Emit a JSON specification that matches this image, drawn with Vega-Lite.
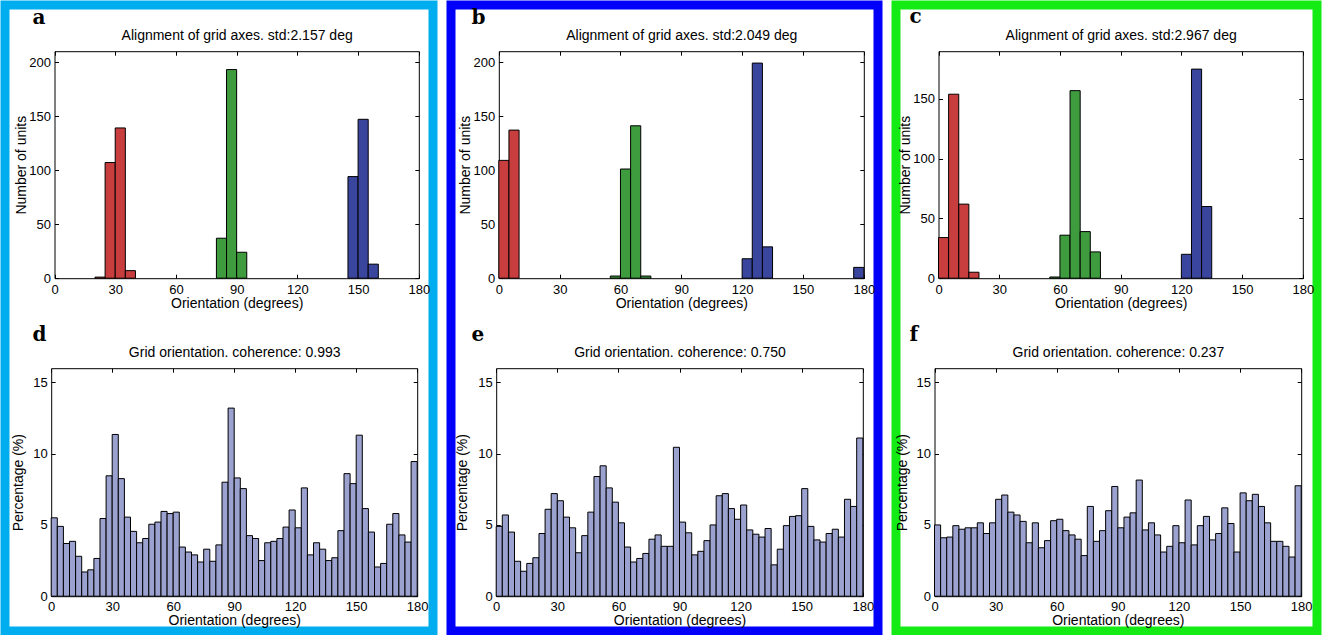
{
"$schema": "https://vega.github.io/schema/vega-lite/v6.json",
"padding": 0,
"background": "white",
"spacing": 8,
"config": {
  "font": "Liberation Sans",
  "view": {"stroke": null},
  "axis": {"grid": false, "domainColor": "black", "domainWidth": 1, "tickColor": "black", "tickWidth": 1, "tickSize": -4,
           "labelColor": "black", "labelFontSize": 13, "labelFont": "Liberation Sans", "titleFont": "Liberation Sans",
           "titleFontSize": 14, "titleFontWeight": "normal", "titleColor": "black", "labelFlush": false, "labelOverlap": false,
           "minExtent": 0, "labelAngle": 0}
},
"datasets": {
  "a": [
    {"x0":20,"x1":25,"n":1,"g":"r"},{"x0":25,"x1":30,"n":107,"g":"r"},{"x0":30,"x1":35,"n":139,"g":"r"},{"x0":35,"x1":40,"n":7,"g":"r"},
    {"x0":80,"x1":85,"n":37,"g":"g"},{"x0":85,"x1":90,"n":193,"g":"g"},{"x0":90,"x1":95,"n":24,"g":"g"},
    {"x0":145,"x1":150,"n":94,"g":"b"},{"x0":150,"x1":155,"n":147,"g":"b"},{"x0":155,"x1":160,"n":13,"g":"b"}
  ],
  "b": [
    {"x0":0,"x1":5,"n":109,"g":"r"},{"x0":5,"x1":10,"n":137,"g":"r"},
    {"x0":55,"x1":60,"n":2,"g":"g"},{"x0":60,"x1":65,"n":101,"g":"g"},{"x0":65,"x1":70,"n":141,"g":"g"},{"x0":70,"x1":75,"n":2,"g":"g"},
    {"x0":120,"x1":125,"n":18,"g":"b"},{"x0":125,"x1":130,"n":199,"g":"b"},{"x0":130,"x1":135,"n":29,"g":"b"},{"x0":175,"x1":180,"n":10,"g":"b"}
  ],
  "c": [
    {"x0":0,"x1":5,"n":34,"g":"r"},{"x0":5,"x1":10,"n":154,"g":"r"},{"x0":10,"x1":15,"n":62,"g":"r"},{"x0":15,"x1":20,"n":5,"g":"r"},
    {"x0":55,"x1":60,"n":1,"g":"g"},{"x0":60,"x1":65,"n":36,"g":"g"},{"x0":65,"x1":70,"n":157,"g":"g"},{"x0":70,"x1":75,"n":39,"g":"g"},{"x0":75,"x1":80,"n":22,"g":"g"},
    {"x0":120,"x1":125,"n":20,"g":"b"},{"x0":125,"x1":130,"n":175,"g":"b"},{"x0":130,"x1":135,"n":60,"g":"b"}
  ],
  "d": [
    {"x0":0,"x1":3,"p":5.5},{"x0":3,"x1":6,"p":4.9},{"x0":6,"x1":9,"p":3.7},{"x0":9,"x1":12,"p":3.85},{"x0":12,"x1":15,"p":2.8},
    {"x0":15,"x1":18,"p":1.7},{"x0":18,"x1":21,"p":1.85},{"x0":21,"x1":24,"p":2.65},{"x0":24,"x1":27,"p":5.45},{"x0":27,"x1":30,"p":8.45},
    {"x0":30,"x1":33,"p":11.35},{"x0":33,"x1":36,"p":8.25},{"x0":36,"x1":39,"p":5.55},{"x0":39,"x1":42,"p":4.55},{"x0":42,"x1":45,"p":3.75},
    {"x0":45,"x1":48,"p":4.05},{"x0":48,"x1":51,"p":5.05},{"x0":51,"x1":54,"p":5.2},{"x0":54,"x1":57,"p":5.95},{"x0":57,"x1":60,"p":5.8},
    {"x0":60,"x1":63,"p":5.9},{"x0":63,"x1":66,"p":3.45},{"x0":66,"x1":69,"p":3.1},{"x0":69,"x1":72,"p":2.9},{"x0":72,"x1":75,"p":2.4},
    {"x0":75,"x1":78,"p":3.3},{"x0":78,"x1":81,"p":2.45},{"x0":81,"x1":84,"p":3.6},{"x0":84,"x1":87,"p":8.0},{"x0":87,"x1":90,"p":13.2},
    {"x0":90,"x1":93,"p":8.3},{"x0":93,"x1":96,"p":7.55},{"x0":96,"x1":99,"p":4.25},{"x0":99,"x1":102,"p":4.05},{"x0":102,"x1":105,"p":2.5},
    {"x0":105,"x1":108,"p":3.75},{"x0":108,"x1":111,"p":3.85},{"x0":111,"x1":114,"p":4.05},{"x0":114,"x1":117,"p":4.85},{"x0":117,"x1":120,"p":6.05},
    {"x0":120,"x1":123,"p":4.8},{"x0":123,"x1":126,"p":7.6},{"x0":126,"x1":129,"p":2.9},{"x0":129,"x1":132,"p":3.75},{"x0":132,"x1":135,"p":3.3},
    {"x0":135,"x1":138,"p":2.5},{"x0":138,"x1":141,"p":2.7},{"x0":141,"x1":144,"p":4.6},{"x0":144,"x1":147,"p":8.6},{"x0":147,"x1":150,"p":7.9},
    {"x0":150,"x1":153,"p":11.3},{"x0":153,"x1":156,"p":6.15},{"x0":156,"x1":159,"p":4.5},{"x0":159,"x1":162,"p":2.05},{"x0":162,"x1":165,"p":2.3},
    {"x0":165,"x1":168,"p":5.05},{"x0":168,"x1":171,"p":5.8},{"x0":171,"x1":174,"p":4.3},{"x0":174,"x1":177,"p":3.8},{"x0":177,"x1":180,"p":9.45}
  ],
  "e": [
    {"x0":0,"x1":3,"p":4.9},{"x0":3,"x1":6,"p":5.7},{"x0":6,"x1":9,"p":4.5},{"x0":9,"x1":12,"p":2.45},{"x0":12,"x1":15,"p":1.75},
    {"x0":15,"x1":18,"p":2.3},{"x0":18,"x1":21,"p":2.7},{"x0":21,"x1":24,"p":4.4},{"x0":24,"x1":27,"p":6.1},{"x0":27,"x1":30,"p":7.2},
    {"x0":30,"x1":33,"p":6.7},{"x0":33,"x1":36,"p":5.55},{"x0":36,"x1":39,"p":4.8},{"x0":39,"x1":42,"p":3.05},{"x0":42,"x1":45,"p":4.25},
    {"x0":45,"x1":48,"p":5.9},{"x0":48,"x1":51,"p":8.4},{"x0":51,"x1":54,"p":9.15},{"x0":54,"x1":57,"p":7.6},{"x0":57,"x1":60,"p":6.6},
    {"x0":60,"x1":63,"p":5.15},{"x0":63,"x1":66,"p":3.45},{"x0":66,"x1":69,"p":2.4},{"x0":69,"x1":72,"p":2.65},{"x0":72,"x1":75,"p":3.0},
    {"x0":75,"x1":78,"p":4.0},{"x0":78,"x1":81,"p":4.3},{"x0":81,"x1":84,"p":3.5},{"x0":84,"x1":87,"p":3.5},{"x0":87,"x1":90,"p":10.45},
    {"x0":90,"x1":93,"p":5.2},{"x0":93,"x1":96,"p":4.45},{"x0":96,"x1":99,"p":2.9},{"x0":99,"x1":102,"p":3.15},{"x0":102,"x1":105,"p":3.9},
    {"x0":105,"x1":108,"p":5.0},{"x0":108,"x1":111,"p":7.05},{"x0":111,"x1":114,"p":7.2},{"x0":114,"x1":117,"p":6.15},{"x0":117,"x1":120,"p":5.4},
    {"x0":120,"x1":123,"p":6.4},{"x0":123,"x1":126,"p":4.65},{"x0":126,"x1":129,"p":4.35},{"x0":129,"x1":132,"p":4.15},{"x0":132,"x1":135,"p":4.75},
    {"x0":135,"x1":138,"p":2.2},{"x0":138,"x1":141,"p":3.3},{"x0":141,"x1":144,"p":4.95},{"x0":144,"x1":147,"p":5.6},{"x0":147,"x1":150,"p":5.65},
    {"x0":150,"x1":153,"p":7.55},{"x0":153,"x1":156,"p":4.9},{"x0":156,"x1":159,"p":3.95},{"x0":159,"x1":162,"p":3.8},{"x0":162,"x1":165,"p":4.4},
    {"x0":165,"x1":168,"p":4.7},{"x0":168,"x1":171,"p":4.15},{"x0":171,"x1":174,"p":6.8},{"x0":174,"x1":177,"p":6.3},{"x0":177,"x1":180,"p":11.1}
  ],
  "f": [
    {"x0":0,"x1":3,"p":5.0},{"x0":3,"x1":6,"p":4.1},{"x0":6,"x1":9,"p":4.15},{"x0":9,"x1":12,"p":4.95},{"x0":12,"x1":15,"p":4.7},
    {"x0":15,"x1":18,"p":4.8},{"x0":18,"x1":21,"p":4.8},{"x0":21,"x1":24,"p":5.15},{"x0":24,"x1":27,"p":4.4},{"x0":27,"x1":30,"p":5.15},
    {"x0":30,"x1":33,"p":6.8},{"x0":33,"x1":36,"p":7.1},{"x0":36,"x1":39,"p":5.9},{"x0":39,"x1":42,"p":5.7},{"x0":42,"x1":45,"p":5.25},
    {"x0":45,"x1":48,"p":3.75},{"x0":48,"x1":51,"p":5.15},{"x0":51,"x1":54,"p":3.4},{"x0":54,"x1":57,"p":3.9},{"x0":57,"x1":60,"p":5.3},
    {"x0":60,"x1":63,"p":5.4},{"x0":63,"x1":66,"p":4.6},{"x0":66,"x1":69,"p":4.3},{"x0":69,"x1":72,"p":4.0},{"x0":72,"x1":75,"p":2.85},
    {"x0":75,"x1":78,"p":6.3},{"x0":78,"x1":81,"p":3.85},{"x0":81,"x1":84,"p":4.6},{"x0":84,"x1":87,"p":6.0},{"x0":87,"x1":90,"p":7.7},
    {"x0":90,"x1":93,"p":4.8},{"x0":93,"x1":96,"p":5.55},{"x0":96,"x1":99,"p":5.85},{"x0":99,"x1":102,"p":8.15},{"x0":102,"x1":105,"p":4.65},
    {"x0":105,"x1":108,"p":5.15},{"x0":108,"x1":111,"p":4.3},{"x0":111,"x1":114,"p":3.1},{"x0":114,"x1":117,"p":3.5},{"x0":117,"x1":120,"p":4.95},
    {"x0":120,"x1":123,"p":3.75},{"x0":123,"x1":126,"p":6.75},{"x0":126,"x1":129,"p":3.6},{"x0":129,"x1":132,"p":4.95},{"x0":132,"x1":135,"p":5.6},
    {"x0":135,"x1":138,"p":3.95},{"x0":138,"x1":141,"p":4.4},{"x0":141,"x1":144,"p":6.2},{"x0":144,"x1":147,"p":5.1},{"x0":147,"x1":150,"p":3.1},
    {"x0":150,"x1":153,"p":7.25},{"x0":153,"x1":156,"p":6.7},{"x0":156,"x1":159,"p":7.15},{"x0":159,"x1":162,"p":6.3},{"x0":162,"x1":165,"p":5.15},
    {"x0":165,"x1":168,"p":3.85},{"x0":168,"x1":171,"p":3.85},{"x0":171,"x1":174,"p":3.5},{"x0":174,"x1":177,"p":2.75},{"x0":177,"x1":180,"p":7.75}
  ]
},
"hconcat": [
  {
    "width": 428, "height": 626,
    "view": {"stroke": "#00aeef", "strokeWidth": 9, "fill": "white"},
    "resolve": {"scale": {"x": "independent", "y": "independent"}},
    "layer": [
      {"data": {"name": "a"}, "mark": {"type": "bar", "stroke": "black", "strokeWidth": 1},
       "encoding": {
         "x": {"field": "x0", "type": "quantitative", "scale": {"domain": [0,180], "range": [49.5,413.8], "nice": false},
               "axis": {"orient": "bottom", "offset": -352.8, "values": [0,30,60,90,120,150,180], "labelPadding": 9.5, "title": "Orientation (degrees)", "titlePadding": 0}},
         "x2": {"field": "x1"},
         "y": {"field": "n", "type": "quantitative", "scale": {"domain": [0,210], "range": [273.2,46.2], "nice": false},
               "axis": {"orient": "left", "offset": -49.5, "values": [0,50,100,150,200], "labelPadding": 8, "title": "Number of units", "titlePadding": 0.5}},
         "y2": {"datum": 0},
         "color": {"field": "g", "type": "nominal", "scale": {"domain": ["r","g","b"], "range": ["#c83e3e","#3e9b3e","#3a469e"]}, "legend": null}
       }},
      {"data": {"name": "a"}, "mark": {"type": "point", "opacity": 0},
       "encoding": {
         "x": {"field": "x0", "type": "quantitative", "scale": {"domain": [0,180], "range": [49.5,413.8], "nice": false},
               "axis": {"orient": "top", "offset": -46.2, "values": [0,30,60,90,120,150,180], "labels": false, "title": "Alignment of grid axes. std:2.157 deg", "titlePadding": 8}},
         "y": {"field": "n", "type": "quantitative", "scale": {"domain": [0,210], "range": [273.2,46.2], "nice": false},
               "axis": {"orient": "right", "offset": -14.2, "values": [0,50,100,150,200], "labels": false, "title": null}}
       }},
      {"data": {"name": "d"}, "mark": {"type": "bar", "fill": "#9ca2d0", "stroke": "black", "strokeWidth": 1},
       "encoding": {
         "x": {"field": "x0", "type": "quantitative", "scale": {"domain": [0,180], "range": [46.2,412.2], "nice": false},
               "axis": {"orient": "bottom", "offset": -34.8, "values": [0,30,60,90,120,150,180], "labelPadding": 8.5, "title": "Orientation (degrees)", "titlePadding": -0.5}},
         "x2": {"field": "x1"},
         "y": {"field": "p", "type": "quantitative", "scale": {"domain": [0,16], "range": [591.2,363.2], "nice": false},
               "axis": {"orient": "left", "offset": -46.2, "values": [0,5,10,15], "labelPadding": 8, "title": "Percentage (%)", "titlePadding": 7}},
         "y2": {"datum": 0}
       }},
      {"data": {"name": "d"}, "mark": {"type": "point", "opacity": 0},
       "encoding": {
         "x": {"field": "x0", "type": "quantitative", "scale": {"domain": [0,180], "range": [46.2,412.2], "nice": false},
               "axis": {"orient": "top", "offset": -363.2, "values": [0,30,60,90,120,150,180], "labels": false, "title": "Grid orientation. coherence: 0.993", "titlePadding": 8}},
         "y": {"field": "p", "type": "quantitative", "scale": {"domain": [0,16], "range": [591.2,363.2], "nice": false},
               "axis": {"orient": "right", "offset": -15.8, "values": [0,5,10,15], "labels": false, "title": null}}
       }},
      {"data": {"values": [{"t": "a"}]}, "mark": {"type": "text", "font": "DejaVu Serif", "fontWeight": "bold", "fontSize": 20, "align": "left", "baseline": "alphabetic"},
       "encoding": {
         "text": {"field": "t"},
         "x": {"datum": -10.9, "type": "quantitative", "scale": {"domain": [0,180], "range": [49.5,413.8], "nice": false}, "axis": null},
         "y": {"datum": 235.6, "type": "quantitative", "scale": {"domain": [0,210], "range": [273.2,46.2], "nice": false}, "axis": null}
       }},
      {"data": {"values": [{"t": "d"}]}, "mark": {"type": "text", "font": "DejaVu Serif", "fontWeight": "bold", "fontSize": 20, "align": "left", "baseline": "alphabetic"},
       "encoding": {
         "text": {"field": "t"},
         "x": {"datum": -9.2, "type": "quantitative", "scale": {"domain": [0,180], "range": [46.2,412.2], "nice": false}, "axis": null},
         "y": {"datum": 17.9, "type": "quantitative", "scale": {"domain": [0,16], "range": [591.2,363.2], "nice": false}, "axis": null}
       }}
    ]
  },
  {
    "width": 427, "height": 626,
    "view": {"stroke": "#0000fa", "strokeWidth": 9, "fill": "white"},
    "resolve": {"scale": {"x": "independent", "y": "independent"}},
    "layer": [
      {"data": {"name": "b"}, "mark": {"type": "bar", "stroke": "black", "strokeWidth": 1},
       "encoding": {
         "x": {"field": "x0", "type": "quantitative", "scale": {"domain": [0,180], "range": [47.8,412.8], "nice": false},
               "axis": {"orient": "bottom", "offset": -352.8, "values": [0,30,60,90,120,150,180], "labelPadding": 9.5, "title": "Orientation (degrees)", "titlePadding": 0}},
         "x2": {"field": "x1"},
         "y": {"field": "n", "type": "quantitative", "scale": {"domain": [0,210], "range": [273.2,46.2], "nice": false},
               "axis": {"orient": "left", "offset": -47.8, "values": [0,50,100,150,200], "labelPadding": 8, "title": "Number of units", "titlePadding": 0.7}},
         "y2": {"datum": 0},
         "color": {"field": "g", "type": "nominal", "scale": {"domain": ["r","g","b"], "range": ["#c83e3e","#3e9b3e","#3a469e"]}, "legend": null}
       }},
      {"data": {"name": "b"}, "mark": {"type": "point", "opacity": 0},
       "encoding": {
         "x": {"field": "x0", "type": "quantitative", "scale": {"domain": [0,180], "range": [47.8,412.8], "nice": false},
               "axis": {"orient": "top", "offset": -46.2, "values": [0,30,60,90,120,150,180], "labels": false, "title": "Alignment of grid axes. std:2.049 deg", "titlePadding": 8}},
         "y": {"field": "n", "type": "quantitative", "scale": {"domain": [0,210], "range": [273.2,46.2], "nice": false},
               "axis": {"orient": "right", "offset": -14.2, "values": [0,50,100,150,200], "labels": false, "title": null}}
       }},
      {"data": {"name": "e"}, "mark": {"type": "bar", "fill": "#9ca2d0", "stroke": "black", "strokeWidth": 1},
       "encoding": {
         "x": {"field": "x0", "type": "quantitative", "scale": {"domain": [0,180], "range": [45.2,411.8], "nice": false},
               "axis": {"orient": "bottom", "offset": -34.8, "values": [0,30,60,90,120,150,180], "labelPadding": 8.5, "title": "Orientation (degrees)", "titlePadding": -0.5}},
         "x2": {"field": "x1"},
         "y": {"field": "p", "type": "quantitative", "scale": {"domain": [0,16], "range": [591.2,363.2], "nice": false},
               "axis": {"orient": "left", "offset": -45.2, "values": [0,5,10,15], "labelPadding": 8, "title": "Percentage (%)", "titlePadding": 8}},
         "y2": {"datum": 0}
       }},
      {"data": {"name": "e"}, "mark": {"type": "point", "opacity": 0},
       "encoding": {
         "x": {"field": "x0", "type": "quantitative", "scale": {"domain": [0,180], "range": [45.2,411.8], "nice": false},
               "axis": {"orient": "top", "offset": -363.2, "values": [0,30,60,90,120,150,180], "labels": false, "title": "Grid orientation. coherence: 0.750", "titlePadding": 8}},
         "y": {"field": "p", "type": "quantitative", "scale": {"domain": [0,16], "range": [591.2,363.2], "nice": false},
               "axis": {"orient": "right", "offset": -15.2, "values": [0,5,10,15], "labels": false, "title": null}}
       }},
      {"data": {"values": [{"t": "b"}]}, "mark": {"type": "text", "font": "DejaVu Serif", "fontWeight": "bold", "fontSize": 20, "align": "left", "baseline": "alphabetic"},
       "encoding": {
         "text": {"field": "t"},
         "x": {"datum": -13.5, "type": "quantitative", "scale": {"domain": [0,180], "range": [47.8,412.8], "nice": false}, "axis": null},
         "y": {"datum": 235.6, "type": "quantitative", "scale": {"domain": [0,210], "range": [273.2,46.2], "nice": false}, "axis": null}
       }},
      {"data": {"values": [{"t": "e"}]}, "mark": {"type": "text", "font": "DejaVu Serif", "fontWeight": "bold", "fontSize": 20, "align": "left", "baseline": "alphabetic"},
       "encoding": {
         "text": {"field": "t"},
         "x": {"datum": -12.1, "type": "quantitative", "scale": {"domain": [0,180], "range": [45.2,411.8], "nice": false}, "axis": null},
         "y": {"datum": 17.9, "type": "quantitative", "scale": {"domain": [0,16], "range": [591.2,363.2], "nice": false}, "axis": null}
       }}
    ]
  },
  {
    "width": 421, "height": 626,
    "view": {"stroke": "#14ea14", "strokeWidth": 9, "fill": "white"},
    "resolve": {"scale": {"x": "independent", "y": "independent"}},
    "layer": [
      {"data": {"name": "c"}, "mark": {"type": "bar", "stroke": "black", "strokeWidth": 1},
       "encoding": {
         "x": {"field": "x0", "type": "quantitative", "scale": {"domain": [0,180], "range": [42.5,406.8], "nice": false},
               "axis": {"orient": "bottom", "offset": -352.8, "values": [0,30,60,90,120,150,180], "labelPadding": 9.5, "title": "Orientation (degrees)", "titlePadding": 0}},
         "x2": {"field": "x1"},
         "y": {"field": "n", "type": "quantitative", "scale": {"domain": [0,190], "range": [273.2,46.2], "nice": false},
               "axis": {"orient": "left", "offset": -42.5, "values": [0,50,100,150], "labelPadding": 8, "title": "Number of units", "titlePadding": 0.4}},
         "y2": {"datum": 0},
         "color": {"field": "g", "type": "nominal", "scale": {"domain": ["r","g","b"], "range": ["#c83e3e","#3e9b3e","#3a469e"]}, "legend": null}
       }},
      {"data": {"name": "c"}, "mark": {"type": "point", "opacity": 0},
       "encoding": {
         "x": {"field": "x0", "type": "quantitative", "scale": {"domain": [0,180], "range": [42.5,406.8], "nice": false},
               "axis": {"orient": "top", "offset": -46.2, "values": [0,30,60,90,120,150,180], "labels": false, "title": "Alignment of grid axes. std:2.967 deg", "titlePadding": 8}},
         "y": {"field": "n", "type": "quantitative", "scale": {"domain": [0,190], "range": [273.2,46.2], "nice": false},
               "axis": {"orient": "right", "offset": -14.2, "values": [0,50,100,150], "labels": false, "title": null}}
       }},
      {"data": {"name": "f"}, "mark": {"type": "bar", "fill": "#9ca2d0", "stroke": "black", "strokeWidth": 1},
       "encoding": {
         "x": {"field": "x0", "type": "quantitative", "scale": {"domain": [0,180], "range": [38.5,405.2], "nice": false},
               "axis": {"orient": "bottom", "offset": -34.8, "values": [0,30,60,90,120,150,180], "labelPadding": 8.5, "title": "Orientation (degrees)", "titlePadding": -0.5}},
         "x2": {"field": "x1"},
         "y": {"field": "p", "type": "quantitative", "scale": {"domain": [0,16], "range": [591.2,363.2], "nice": false},
               "axis": {"orient": "left", "offset": -38.5, "values": [0,5,10,15], "labelPadding": 8, "title": "Percentage (%)", "titlePadding": 6.5}},
         "y2": {"datum": 0}
       }},
      {"data": {"name": "f"}, "mark": {"type": "point", "opacity": 0},
       "encoding": {
         "x": {"field": "x0", "type": "quantitative", "scale": {"domain": [0,180], "range": [38.5,405.2], "nice": false},
               "axis": {"orient": "top", "offset": -363.2, "values": [0,30,60,90,120,150,180], "labels": false, "title": "Grid orientation. coherence: 0.237", "titlePadding": 8}},
         "y": {"field": "p", "type": "quantitative", "scale": {"domain": [0,16], "range": [591.2,363.2], "nice": false},
               "axis": {"orient": "right", "offset": -15.8, "values": [0,5,10,15], "labels": false, "title": null}}
       }},
      {"data": {"values": [{"t": "c"}]}, "mark": {"type": "text", "font": "DejaVu Serif", "fontWeight": "bold", "fontSize": 20, "align": "left", "baseline": "alphabetic"},
       "encoding": {
         "text": {"field": "t"},
         "x": {"datum": -14.3, "type": "quantitative", "scale": {"domain": [0,180], "range": [42.5,406.8], "nice": false}, "axis": null},
         "y": {"datum": 213.2, "type": "quantitative", "scale": {"domain": [0,190], "range": [273.2,46.2], "nice": false}, "axis": null}
       }},
      {"data": {"values": [{"t": "f"}]}, "mark": {"type": "text", "font": "DejaVu Serif", "fontWeight": "bold", "fontSize": 20, "align": "left", "baseline": "alphabetic"},
       "encoding": {
         "text": {"field": "t"},
         "x": {"datum": -12.3, "type": "quantitative", "scale": {"domain": [0,180], "range": [38.5,405.2], "nice": false}, "axis": null},
         "y": {"datum": 17.9, "type": "quantitative", "scale": {"domain": [0,16], "range": [591.2,363.2], "nice": false}, "axis": null}
       }}
    ]
  }
]
}
